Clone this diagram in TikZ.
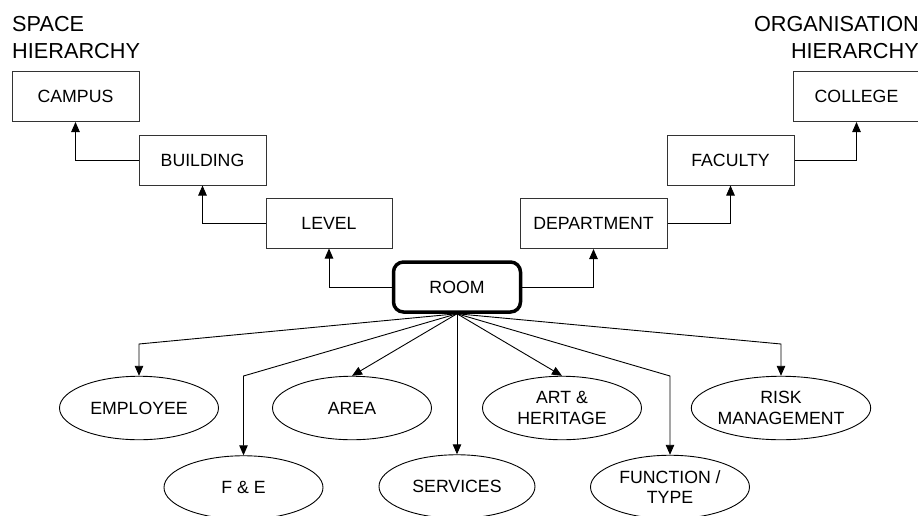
\documentclass[tikz,border=0pt]{standalone}
\usepackage{fontspec}
\setmainfont{Liberation Sans}
\usetikzlibrary{arrows.meta,shapes.geometric}
\begin{document}
\begin{tikzpicture}[x=1pt, y={(0pt,-1pt)},
  lbl/.style={font=\fontsize{17.7}{20.7}\selectfont, align=center, inner sep=0pt},
  hbox/.style={lbl, draw=black!80, line width=1pt, minimum width=127pt, minimum height=50pt},
  roombox/.style={lbl, draw=black, line width=3.5pt, rounded corners=10pt, minimum width=127pt, minimum height=50pt},
  attr/.style={lbl, draw=black, line width=0.9pt, ellipse, minimum width=159pt, minimum height=63.5pt},
  arr/.style={draw=black, line width=0.9pt, -{Triangle[length=10pt, width=8.5pt]}},
  title/.style={font=\fontsize{21.7}{26.3}\selectfont, inner sep=0pt}
]
\useasboundingbox (0,0) rectangle (918,515);

% headings (anchored at the baseline of their last line)
\node[title, anchor=base west, align=left] (spaceT) at (12,58) {SPACE\\HIERARCHY};
\node[title, anchor=base east, align=right] (orgT) at (919,58) {ORGANISATION\\HIERARCHY};

% space hierarchy
\node[hbox] (campus) at (75.5,96.5) {CAMPUS};
\node[hbox] (building) at (202.5,160) {BUILDING};
\node[hbox, minimum width=126pt] (level) at (329,223) {LEVEL};

% organisation hierarchy
\node[hbox, minimum width=147pt] (department) at (593.5,223.5) {DEPARTMENT};
\node[hbox] (faculty) at (730.5,160) {FACULTY};
\node[hbox] (college) at (856.5,96.5) {COLLEGE};

% central entity
\node[roombox] (room) at (457,287) {ROOM};

% attributes
\node[attr] (emp) at (139,408) {EMPLOYEE};
\node[attr] (area) at (352,408) {AREA};
\node[attr] (art) at (562,408) {ART \&\\HERITAGE};
\node[attr, minimum width=172pt] (risk) at (781,408) {RISK\\MANAGEMENT};
\node[attr] (fe) at (243.5,487.5) {F \& E};
\node[attr, minimum width=156pt] (serv) at (457,486.5) {SERVICES};
\node[attr] (func) at (670,487) {FUNCTION /\\TYPE};

% hierarchy links
\draw[arr] (building.west) -| (campus.south);
\draw[arr] (level.west) -| (building.south);
\draw[arr] (room.west) -| (level.south);
\draw[arr] (room.east) -| (department.south);
\draw[arr] (department.east) -| (faculty.south);
\draw[arr] (faculty.east) -| (college.south);

% bend points above the attributes
\coordinate (kEmp) at (emp.north |- 0,344);
\coordinate (kRisk) at (risk.north |- 0,344);
\coordinate (kFe) at (fe.north |- 0,376);
\coordinate (kFunc) at (func.north |- 0,376);

% attribute links
\draw[arr] (room.south) -- (kEmp) -- (emp.north);
\draw[arr] (room.south) -- (kFe) -- (fe.north);
\draw[arr] (room.south) -- (area.north);
\draw[arr] (room.south) -- (serv.north);
\draw[arr] (room.south) -- (art.north);
\draw[arr] (room.south) -- (kFunc) -- (func.north);
\draw[arr] (room.south) -- (kRisk) -- (risk.north);
\end{tikzpicture}
\end{document}
